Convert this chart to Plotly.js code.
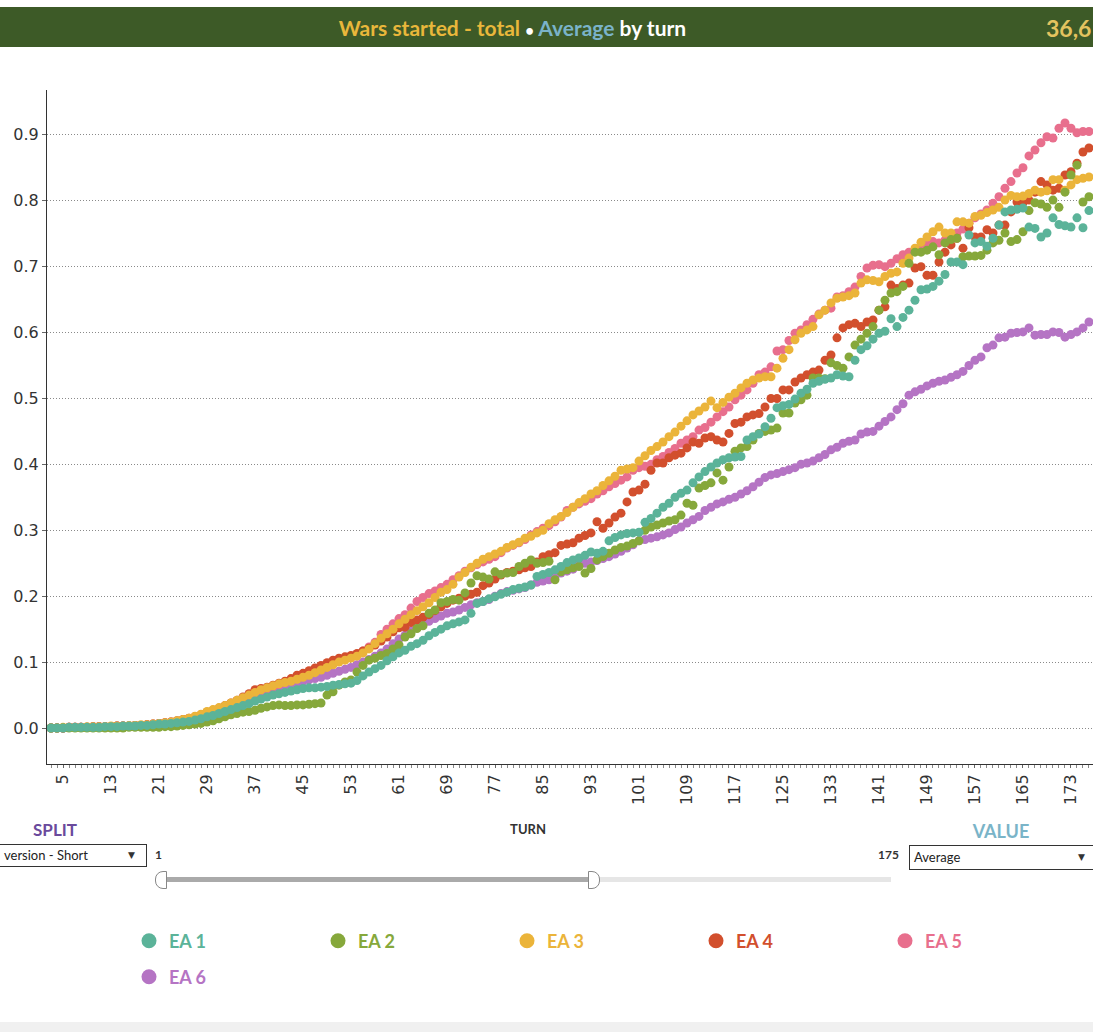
<!DOCTYPE html>
<html><head><meta charset="utf-8">
<script src="https://cdn.plot.ly/plotly-3.0.1.min.js"></script>
<style>
body{margin:0;width:1093px;height:1032px;overflow:hidden;background:#fff;font-family:Lato,"DejaVu Sans",sans-serif;}
#chart{position:absolute;left:0;top:0;width:1093px;height:1032px;}
.ov{position:absolute;z-index:5;white-space:nowrap;}
</style></head><body>
<div id="chart"></div>
<div class="ov" style="left:0;top:7px;width:1093px;height:40px;background:#3d5a27;"></div>
<div class="ov" style="left:0;top:15px;width:1025px;text-align:center;font:bold 21px/26px Lato;color:#fff;"><span style="color:#e9b73b">Wars started - total</span> <span style="font-size:15px;">•</span> <span style="color:#7ab3c9">Average</span> by turn</div>
<div class="ov" style="left:1046px;top:14px;font:bold 23px/28px Lato;color:#e3c35f;">36,6</div>
<div class="ov" style="left:0;top:1022px;width:1093px;height:10px;background:#f0f0f0;"></div>
<div class="ov" style="left:0;top:819px;width:110px;text-align:center;font:bold 17px/22px Lato;color:#6a4a9c;">SPLIT</div>
<div class="ov" style="left:-2px;top:844px;width:149px;height:23px;border:1px solid #333;background:#fff;box-sizing:border-box;"></div>
<div class="ov" style="left:4px;top:847px;font:13px/17px Lato;color:#222;">version - Short</div>
<div class="ov" style="left:128px;top:848px;font:9px/15px 'DejaVu Sans';color:#333;">▼</div>
<div class="ov" style="left:155px;top:847px;font:bold 12px/16px Lato;color:#333;">1</div>
<div class="ov" style="left:478px;top:820px;width:100px;text-align:center;font:bold 13px/18px Lato;color:#333;">TURN</div>
<div class="ov" style="left:878px;top:847px;font:bold 12px/16px Lato;color:#333;">175</div>
<div class="ov" style="left:163px;top:877px;width:432px;height:5px;background:#aaaaaa;"></div>
<div class="ov" style="left:595px;top:877px;width:296px;height:5px;background:#e6e6e6;"></div>
<div class="ov" style="left:155px;top:871px;width:10px;height:16px;border:1px solid #888;border-radius:8px 0 0 8px;background:#fff;"></div>
<div class="ov" style="left:588px;top:871px;width:10px;height:16px;border:1px solid #888;border-radius:0 8px 8px 0;background:#fff;"></div>
<div class="ov" style="left:941px;top:820px;width:120px;text-align:center;font:bold 18px/23px Lato;color:#7ab4c8;">VALUE</div>
<div class="ov" style="left:909px;top:845px;width:186px;height:25px;border:1px solid #333;background:#fff;box-sizing:border-box;"></div>
<div class="ov" style="left:914px;top:849px;font:13px/17px Lato;color:#222;">Average</div>
<div class="ov" style="left:1078px;top:850px;font:9px/15px 'DejaVu Sans';color:#333;">▼</div>
<script>
const turns = Array.from({length:174}, (_, i) => i + 3);
const xTickVals = [5,13,21,29,37,45,53,61,69,77,85,93,101,109,117,125,133,141,149,157,165,173];
const yTickVals = [0,0.1,0.2,0.3,0.4,0.5,0.6,0.7,0.8,0.9];
const yTickText = ['0.0','0.1','0.2','0.3','0.4','0.5','0.6','0.7','0.8','0.9'];
const seriesNames = ['EA 1','EA 2','EA 3','EA 4','EA 5','EA 6'];
const seriesColors = ['#5bb399','#86a83b','#ebb43a','#d24f2d','#e86f8d','#b574c4'];

const ea1 = [0.000,0.000,0.000,0.001,0.001,0.001,0.001,0.001,
 0.001,0.002,0.002,0.002,0.003,0.003,0.003,0.004,0.004,0.005,
 0.006,0.006,0.007,0.008,0.009,0.010,0.012,0.014,0.017,0.019,
 0.022,0.025,0.028,0.031,0.034,0.037,0.041,0.044,0.047,0.050,
 0.052,0.054,0.056,0.058,0.060,0.061,0.061,0.062,0.063,0.065,
 0.066,0.067,0.068,0.072,0.079,0.085,0.090,0.095,0.102,0.108,
 0.114,0.118,0.124,0.128,0.133,0.140,0.145,0.150,0.155,0.158,
 0.161,0.164,0.174,0.189,0.192,0.196,0.199,0.203,0.206,0.210,
 0.212,0.214,0.217,0.230,0.233,0.236,0.240,0.245,0.251,0.255,
 0.258,0.262,0.267,0.265,0.268,0.284,0.289,0.293,0.295,0.296,
 0.297,0.312,0.318,0.326,0.335,0.341,0.350,0.356,0.361,0.372,
 0.381,0.389,0.396,0.402,0.407,0.410,0.411,0.412,0.437,0.442,
 0.446,0.457,0.470,0.486,0.489,0.491,0.499,0.508,0.514,0.523,
 0.526,0.529,0.531,0.536,0.534,0.533,0.558,0.574,0.580,0.590,
 0.599,0.602,0.621,0.609,0.623,0.634,0.649,0.665,0.666,0.670,
 0.678,0.688,0.707,0.707,0.703,0.748,0.736,0.738,0.731,0.743,
 0.763,0.783,0.786,0.787,0.789,0.760,0.758,0.745,0.751,0.774,
 0.764,0.762,0.760,0.774,0.759,0.785];

const ea2 = [0,0,0,0,0,0,0,0,
 0,0,0,0,0,0.001,0.001,0.001,0.001,0.001,
 0.001,0.002,0.002,0.003,0.004,0.005,0.006,0.007,0.009,0.011,
 0.014,0.017,0.020,0.022,0.024,0.025,0.027,0.030,0.032,0.034,
 0.035,0.034,0.034,0.035,0.035,0.036,0.037,0.038,0.050,0.055,
 0.065,0.070,0.073,0.085,0.095,0.103,0.106,0.110,0.113,0.120,
 0.126,0.138,0.143,0.151,0.155,0.174,0.179,0.190,0.192,0.195,
 0.194,0.205,0.220,0.231,0.229,0.226,0.237,0.233,0.235,0.236,
 0.245,0.250,0.255,0.250,0.251,0.253,0.225,0.237,0.240,0.243,
 0.245,0.235,0.242,0.255,0.260,0.265,0.270,0.274,0.276,0.280,
 0.284,0.300,0.305,0.308,0.311,0.314,0.316,0.323,0.341,0.338,
 0.364,0.368,0.372,0.387,0.376,0.396,0.420,0.425,0.427,0.437,
 0.447,0.450,0.452,0.455,0.478,0.478,0.493,0.498,0.505,0.531,
 0.531,0.530,0.554,0.550,0.546,0.563,0.581,0.590,0.599,0.609,
 0.634,0.649,0.660,0.662,0.670,0.705,0.722,0.722,0.725,0.730,
 0.718,0.736,0.741,0.743,0.715,0.716,0.716,0.717,0.725,0.736,
 0.740,0.751,0.738,0.741,0.753,0.785,0.797,0.795,0.790,0.801,
 0.790,0.813,0.839,0.854,0.798,0.806];

const ea3 = [0,0,0.001,0.001,0.001,0.001,0.002,0.002,
 0.002,0.002,0.003,0.003,0.003,0.004,0.004,0.005,0.005,0.006,
 0.007,0.008,0.009,0.011,0.013,0.015,0.018,0.021,0.025,0.028,
 0.031,0.034,0.038,0.042,0.046,0.050,0.054,0.058,0.061,0.064,
 0.067,0.069,0.071,0.074,0.077,0.080,0.084,0.088,0.092,0.096,
 0.100,0.103,0.106,0.109,0.114,0.120,0.128,0.136,0.143,0.150,
 0.158,0.165,0.172,0.178,0.184,0.190,0.198,0.206,0.210,0.218,
 0.229,0.236,0.244,0.250,0.256,0.260,0.264,0.268,0.274,0.278,
 0.282,0.288,0.291,0.296,0.300,0.310,0.316,0.321,0.327,0.335,
 0.342,0.348,0.355,0.360,0.368,0.375,0.382,0.391,0.393,0.395,
 0.405,0.413,0.421,0.427,0.434,0.442,0.449,0.458,0.466,0.475,
 0.481,0.487,0.496,0.486,0.494,0.502,0.508,0.516,0.523,0.528,
 0.531,0.533,0.533,0.546,0.561,0.574,0.589,0.599,0.604,0.609,
 0.627,0.634,0.645,0.652,0.654,0.656,0.660,0.675,0.680,0.679,
 0.677,0.685,0.690,0.692,0.705,0.713,0.728,0.737,0.745,0.753,
 0.760,0.751,0.751,0.768,0.768,0.766,0.776,0.778,0.782,0.786,
 0.790,0.801,0.808,0.806,0.807,0.811,0.816,0.813,0.815,0.832,
 0.832,0.816,0.824,0.832,0.834,0.836];

const ea4 = [0,0,0,0.001,0.001,0.001,0.001,0.002,
 0.002,0.002,0.002,0.003,0.003,0.003,0.004,0.004,0.005,0.006,
 0.007,0.008,0.009,0.011,0.013,0.015,0.017,0.020,0.024,0.027,
 0.030,0.034,0.038,0.042,0.047,0.052,0.058,0.060,0.062,0.065,
 0.068,0.071,0.075,0.080,0.083,0.087,0.091,0.095,0.099,0.103,
 0.106,0.108,0.110,0.113,0.117,0.121,0.126,0.132,0.138,0.146,
 0.152,0.153,0.160,0.164,0.168,0.172,0.178,0.184,0.189,0.194,
 0.197,0.200,0.203,0.206,0.216,0.220,0.226,0.232,0.236,0.238,
 0.240,0.243,0.245,0.252,0.260,0.263,0.266,0.277,0.279,0.281,
 0.288,0.292,0.296,0.313,0.303,0.311,0.320,0.326,0.343,0.358,
 0.361,0.370,0.391,0.402,0.402,0.410,0.414,0.417,0.425,0.434,
 0.432,0.440,0.442,0.437,0.434,0.447,0.462,0.464,0.472,0.475,
 0.477,0.487,0.500,0.500,0.513,0.513,0.525,0.531,0.536,0.540,
 0.543,0.558,0.566,0.592,0.607,0.612,0.614,0.609,0.616,0.619,
 0.634,0.639,0.672,0.667,0.672,0.675,0.698,0.700,0.687,0.687,
 0.707,0.722,0.733,0.743,0.728,0.759,0.745,0.745,0.756,0.751,
 0.763,0.763,0.783,0.798,0.797,0.801,0.813,0.829,0.824,0.816,
 0.819,0.839,0.844,0.857,0.874,0.880];

const ea5 = [0,0,0,0.001,0.001,0.001,0.001,0.002,
 0.002,0.002,0.002,0.003,0.003,0.003,0.004,0.004,0.005,0.006,
 0.007,0.008,0.009,0.010,0.012,0.014,0.017,0.020,0.023,0.026,
 0.029,0.033,0.037,0.041,0.045,0.049,0.053,0.057,0.060,0.063,
 0.066,0.069,0.072,0.076,0.080,0.084,0.088,0.092,0.096,0.100,
 0.103,0.106,0.109,0.112,0.117,0.123,0.130,0.142,0.150,0.158,
 0.166,0.172,0.182,0.192,0.198,0.204,0.208,0.213,0.218,0.225,
 0.231,0.238,0.243,0.248,0.252,0.256,0.260,0.266,0.273,0.277,
 0.281,0.286,0.293,0.298,0.303,0.307,0.313,0.320,0.330,0.335,
 0.340,0.344,0.348,0.355,0.360,0.366,0.371,0.376,0.381,0.391,
 0.395,0.397,0.400,0.407,0.412,0.418,0.424,0.432,0.437,0.442,
 0.452,0.456,0.464,0.472,0.480,0.487,0.498,0.505,0.513,0.523,
 0.536,0.540,0.548,0.572,0.574,0.588,0.599,0.604,0.612,0.620,
 0.628,0.634,0.637,0.654,0.656,0.662,0.669,0.685,0.698,0.702,
 0.703,0.700,0.705,0.712,0.718,0.722,0.725,0.730,0.735,0.738,
 0.736,0.740,0.745,0.751,0.757,0.766,0.774,0.780,0.786,0.796,
 0.806,0.819,0.829,0.842,0.850,0.868,0.877,0.888,0.897,0.895,
 0.910,0.918,0.910,0.903,0.905,0.905];

const ea6 = [0,0,0,0.001,0.001,0.001,0.001,0.001,
 0.002,0.002,0.002,0.003,0.003,0.003,0.004,0.004,0.005,0.005,
 0.006,0.007,0.008,0.009,0.011,0.013,0.015,0.017,0.020,0.023,
 0.026,0.029,0.032,0.035,0.039,0.043,0.047,0.050,0.053,0.056,
 0.059,0.062,0.065,0.068,0.071,0.073,0.075,0.077,0.080,0.083,
 0.086,0.089,0.092,0.096,0.100,0.104,0.109,0.114,0.120,0.128,
 0.135,0.141,0.147,0.152,0.157,0.162,0.166,0.170,0.174,0.176,
 0.179,0.183,0.187,0.190,0.192,0.195,0.200,0.204,0.207,0.209,
 0.211,0.213,0.217,0.221,0.223,0.225,0.230,0.235,0.238,0.241,
 0.248,0.250,0.252,0.254,0.257,0.260,0.264,0.268,0.273,0.278,
 0.284,0.286,0.288,0.290,0.293,0.296,0.301,0.305,0.311,0.316,
 0.321,0.330,0.335,0.340,0.343,0.347,0.350,0.355,0.360,0.366,
 0.373,0.380,0.384,0.386,0.389,0.392,0.395,0.400,0.402,0.405,
 0.410,0.415,0.422,0.426,0.432,0.435,0.437,0.446,0.449,0.450,
 0.458,0.465,0.472,0.483,0.492,0.505,0.510,0.514,0.519,0.523,
 0.526,0.528,0.532,0.536,0.541,0.550,0.558,0.563,0.577,0.581,
 0.592,0.593,0.599,0.600,0.601,0.607,0.596,0.597,0.597,0.601,
 0.600,0.593,0.597,0.601,0.607,0.616];

const seriesValues = [ea1, ea2, ea3, ea4, ea5, ea6];

const traces = [];
// draw EA 6 first so that EA 1 ends up on top, as in the reference
for (let i = 5; i >= 0; i--) {
  traces.push({
    type:'scatter', mode:'markers', x:turns, y:seriesValues[i],
    name:seriesNames[i], showlegend:false,
    marker:{size:9, color:seriesColors[i], line:{width:0}},
    hovertemplate:seriesNames[i]+' turn %{x}: %{y:.3f}<extra></extra>'
  });
}
// legend entries (bigger dots, coloured labels)
for (let i = 0; i < 6; i++) {
  traces.push({
    type:'scatter', mode:'markers', x:[null], y:[null],
    name:'<span style="color:'+seriesColors[i]+'"><b>'+seriesNames[i]+'</b></span>',
    legend: i < 5 ? 'legend' : 'legend2',
    marker:{size:15, color:seriesColors[i]}, hoverinfo:'skip'
  });
}

const tickFont = {family:'DejaVu Sans', size:16, color:'#333'};
const legendBase = {orientation:'h', xref:'container', yref:'container', xanchor:'left', yanchor:'middle',
  entrywidth:144, entrywidthmode:'pixels', font:{family:'Lato', size:18, color:'#333'},
  bgcolor:'rgba(0,0,0,0)', borderwidth:0, itemclick:false, itemdoubleclick:false};

const layout = {
  width:1093, height:1032,
  margin:{l:47, r:0, t:90, b:268, pad:0},
  paper_bgcolor:'#ffffff', plot_bgcolor:'#ffffff',
  font:{family:'DejaVu Sans', size:16, color:'#333'},
  showlegend:true,
  xaxis:{
    range:[2.33, 176.67], tickmode:'array', tickvals:xTickVals, ticktext:xTickVals.map(String),
    tickangle:-90, tickfont:tickFont, showgrid:false, zeroline:false,
    showline:true, linecolor:'#333', linewidth:1,
    ticks:'outside', ticklen:3, tickcolor:'#666', tickwidth:1,
    minor:{tickmode:'linear', tick0:0, dtick:1, ticks:'outside', ticklen:3, tickcolor:'#888', tickwidth:1, showgrid:false},
    fixedrange:true
  },
  yaxis:{
    range:[-0.0546, 0.968], tickmode:'array', tickvals:yTickVals, ticktext:yTickText,
    tickfont:tickFont, showgrid:true, gridcolor:'#8a8a8a', gridwidth:1, griddash:'1px,2px',
    zeroline:false, showline:true, linecolor:'#333', linewidth:1,
    ticks:'outside', ticklen:4, tickcolor:'#666', ticklabelstandoff:0,
    fixedrange:true
  },
  legend:Object.assign({}, legendBase, {x:129/1093, y:1 - 941/1032}),
  legend2:Object.assign({}, legendBase, {x:129/1093, y:1 - 977/1032})
};

Plotly.newPlot('chart', traces, layout, {displayModeBar:false, responsive:false});
</script>
</body></html>
